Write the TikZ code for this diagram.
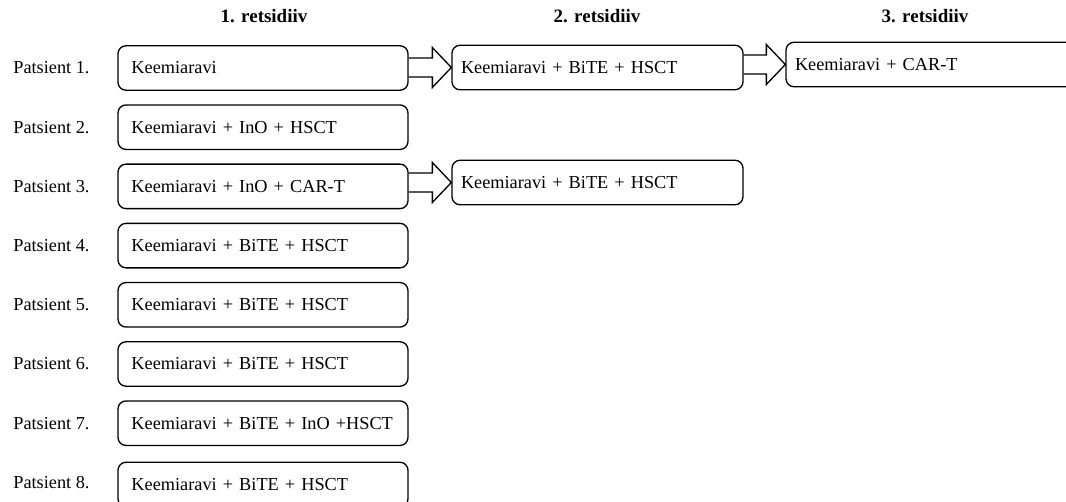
\documentclass[tikz,border=0pt]{standalone}
\usepackage{fontspec}
\setmainfont{Liberation Serif}
\usetikzlibrary{calc}

\tikzset{
  patlabel/.style={anchor=west, inner sep=0pt},
  colhead/.style={font=\fontsize{10.8}{13}\selectfont\bfseries, inner sep=0pt},
  therapy/.style={draw, rounded corners=1.6mm, line width=0.75pt,
    minimum height=8.9mm, inner ysep=0pt, align=left},
  firstbox/.style={therapy, inner xsep=2.7mm, text width=52.6mm},
  laterbox/.style={therapy, inner xsep=1.8mm, text width=54.6mm},
  arrowline/.style={draw, line width=0.75pt, line join=miter},
}
% hollow block arrow from one box to the next
\newcommand{\fatarrow}[2]{%
  \draw[arrowline] ($(#1.east|-#2.west)+(0,-9.5)$)
    -- ($(#2.west)+(-19,-9.5)$) -- ($(#2.west)+(-19,-20)$)
    -- (#2.west)
    -- ($(#2.west)+(-19,20)$) -- ($(#2.west)+(-19,9.5)$)
    -- ($(#1.east|-#2.west)+(0,9.5)$);}

\begin{document}
\begin{tikzpicture}[x=0.2mm,y=-0.2mm,font=\fontsize{10.4}{12.5}\selectfont]
  \useasboundingbox (0,0) rectangle (1066,502);
  \clip (0,0) rectangle (1066,502);

  % column heads
  \node[colhead] (head1) at (264,16) {1. retsidiiv};
  \node[colhead] (head2) at (597,16) {2. retsidiiv};
  \node[colhead] (head3) at (925,16) {3. retsidiiv};

  % patients
  \node[patlabel] (pat1) at (13,68)    {Patsient 1.};
  \node[patlabel] (pat2) at (13,127.2) {Patsient 2.};
  \node[patlabel] (pat3) at (13,186.4) {Patsient 3.};
  \node[patlabel] (pat4) at (13,245.6) {Patsient 4.};
  \node[patlabel] (pat5) at (13,304.8) {Patsient 5.};
  \node[patlabel] (pat6) at (13,364)   {Patsient 6.};
  \node[patlabel] (pat7) at (13,423.2) {Patsient 7.};
  \node[patlabel] (pat8) at (13,483)   {Patsient 8.};

  % first relapse
  \node[firstbox] (ret1p1) at (263,68)    {Keemiaravi};
  \node[firstbox] (ret1p2) at (263,127.2) {Keemiaravi + InO + HSCT};
  \node[firstbox] (ret1p3) at (263,186.4) {Keemiaravi + InO + CAR-T};
  \node[firstbox] (ret1p4) at (263,245.6) {Keemiaravi + BiTE + HSCT};
  \node[firstbox] (ret1p5) at (263,304.8) {Keemiaravi + BiTE + HSCT};
  \node[firstbox] (ret1p6) at (263,364)   {Keemiaravi + BiTE + HSCT};
  \node[firstbox] (ret1p7) at (263,423.2) {Keemiaravi + BiTE + InO +HSCT};
  \node[firstbox] (ret1p8) at (263,484.5) {Keemiaravi + BiTE + HSCT};

  % second and third relapse
  \node[laterbox] (ret2p1) at (597.5,67.5)  {Keemiaravi + BiTE + HSCT};
  \node[laterbox] (ret2p3) at (597.5,182.5) {Keemiaravi + BiTE + HSCT};
  \node[laterbox, text width=56.4mm] (ret3p1) at (936,64.5) {Keemiaravi + CAR-T};

  \fatarrow{ret1p1}{ret2p1}
  \fatarrow{ret2p1}{ret3p1}
  \fatarrow{ret1p3}{ret2p3}
\end{tikzpicture}
\end{document}
